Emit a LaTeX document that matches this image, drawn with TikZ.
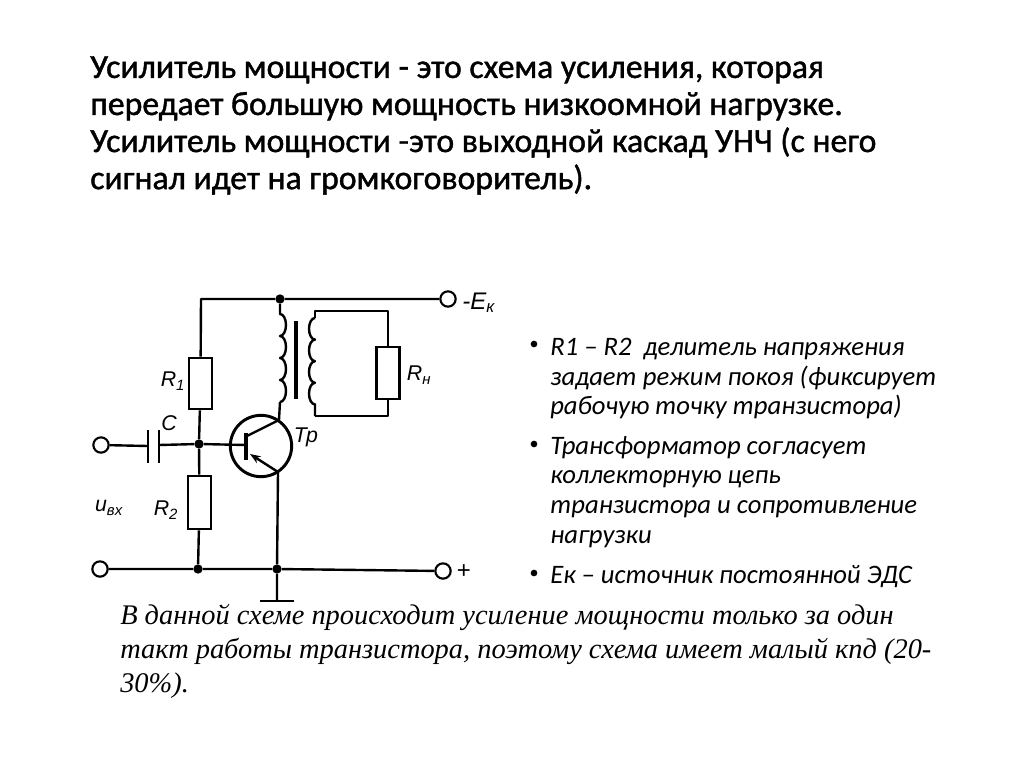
\documentclass[tikz,border=0pt]{standalone}
\usepackage{fontspec}
\setmainfont{Carlito}
\newfontfamily\headfont[FakeBold=1.2]{Carlito}
\newfontfamily\notefont{Liberation Serif}
\newfontfamily\markfont{Liberation Sans}
\usetikzlibrary{arrows.meta}
\tikzset{
	wire/.style={line width=1.8pt, line join=round},
	terminal/.style={circle, draw, line width=1.6pt, fill=white, inner sep=0pt, minimum size=11.5pt},
	junction/.style={circle, fill, inner sep=0pt, minimum size=7pt},
	resistor/.style={rectangle, draw, line width=1.8pt, fill=white, inner sep=0pt},
	partlabel/.style={font=\markfont\itshape\fontsize{16}{16}\selectfont, inner sep=0pt},
	listtext/.style={anchor=north west, align=left, inner sep=0pt, font=\itshape\fontsize{20}{22.2}\selectfont},
	listdot/.style={circle, fill, inner sep=0pt, minimum size=5pt}
}
\begin{document}
\begin{tikzpicture}[x=.75pt, y=-.75pt]
	\useasboundingbox (0,0) rectangle (1024,767);
	% title
	\node[anchor=north west, align=left, inner sep=0pt, font=\headfont\fontsize{25.3}{27.8}\selectfont] (title) at (90,56)
		{Усилитель мощности - это схема усиления, которая\\
		передает большую мощность низкоомной нагрузке.\\
		Усилитель мощности -это выходной каскад УНЧ (с него\\
		сигнал идет на громкоговоритель).};
	% terminals and junctions
	\node[terminal] (inA) at (101,445) {};
	\node[terminal] (inB) at (100,569) {};
	\node[terminal] (supply) at (448,299) {};
	\node[terminal] (plus) at (443,571) {};
	\node[junction] (top) at (280,299) {};
	\node[junction] (base) at (199,444) {};
	\node[junction] (lowA) at (198,569) {};
	\node[junction] (lowB) at (277,569) {};
	\coordinate (corner) at (201,299);
	\coordinate (earth) at (277,601);
	% resistors
	\node[resistor, minimum width=17pt, minimum height=38.5pt] (rOne) at (200.5,383.5) {};
	\node[resistor, minimum width=17pt, minimum height=40pt] (rTwo) at (199.5,502.5) {};
	\node[resistor, minimum width=17pt, minimum height=39pt] (rLoad) at (388,373) {};
	% capacitor
	\coordinate (capA) at (148,446);
	\coordinate (capB) at (159,445);
	\draw[wire] (148,430) -- (148,463);
	\draw[wire] (159,430) -- (159,463);
	% transistor
	\node[circle, draw, line width=2.2pt, inner sep=0pt, minimum size=46pt] (body) at (261,446) {};
	\coordinate (barIn) at (246,445);
	\coordinate (coll) at (279,420);
	\coordinate (emit) at (278,472);
	\draw[line width=2.4pt] (246,433) -- (246,460);
	\draw[wire] (247,436) -- (coll);
	\draw[wire, -{Stealth[length=8pt,width=6pt]}] (emit) -- (250,454);
	% input and rails
	\draw[wire] (inA) -- (capA);
	\draw[wire] (capB) -- (base) -- (barIn);
	\draw[wire] (supply) -- (top) -- (corner) -- (rOne);
	\draw[wire] (rOne) -- (base) -- (rTwo) -- (lowA);
	\draw[wire] (inB) -- (lowA) -- (lowB) -- (plus);
	\draw[wire] (emit) -- (lowB) -- (earth);
	\draw[wire] (260,601) -- (294,601);
	% primary winding
	\draw[wire] (top) -- (280,314)
		\foreach \turn in {1,...,4} { arc (-90:90:6 and 11) };
	\draw[wire] (280,402) -- (coll);
	% core
	\draw[line width=2.8pt] (296,321) -- (296,399);
	% secondary winding
	\coordinate (secTop) at (315,311);
	\coordinate (secLow) at (315,416);
	\draw[wire] (315,318)
		\foreach \turn in {1,...,4} { arc (-90:-270:6 and 10.8) } -- (secLow);
	\draw[wire] (315,318) -- (secTop) -| (rLoad);
	\draw[wire] (secLow) -| (rLoad);
	% circuit labels
	\node[partlabel] (markROne) at (173,381) {R\textsubscript{1}};
	\node[partlabel] (markRTwo) at (166,510) {R\textsubscript{2}};
	\node[partlabel] (markRLoad) at (419,375) {R\textsubscript{н}};
	\node[partlabel] (markC) at (169,423) {C};
	\node[partlabel] (markTr) at (306,437) {Тр};
	\node[partlabel] (markIn) at (109,508) {u\textsubscript{вх}};
	\node[partlabel, anchor=west, font=\markfont\itshape\fontsize{18}{18}\selectfont] (markSupply) at (462,303) {-E\textsubscript{к}};
	\node[partlabel, font=\markfont\fontsize{18}{18}\selectfont] (markPlus) at (464,572) {+};
	% notes on the right
	\node[listdot] (dotA) at (534,344) {};
	\node[listdot] (dotB) at (534,444) {};
	\node[listdot] (dotC) at (534,573) {};
	\node[listtext] (noteA) at (550,338) {R1 – R2~ делитель напряжения\\задает режим покоя (фиксирует\\рабочую точку транзистора)};
	\node[listtext] (noteB) at (550,436) {Трансформатор согласует\\коллекторную цепь\\транзистора и сопротивление\\нагрузки};
	\node[listtext] (noteC) at (550,565) {Ек – источник постоянной ЭДС};
	% text under the circuit
	\node[anchor=north west, align=left, inner sep=0pt, font=\notefont\itshape\fontsize{21.3}{25.6}\selectfont] (summary) at (120,604)
		{В данной схеме происходит усиление мощности только за один\\
		такт работы транзистора, поэтому схема имеет малый кпд (20-\\
		30\%).};
\end{tikzpicture}
\end{document}
